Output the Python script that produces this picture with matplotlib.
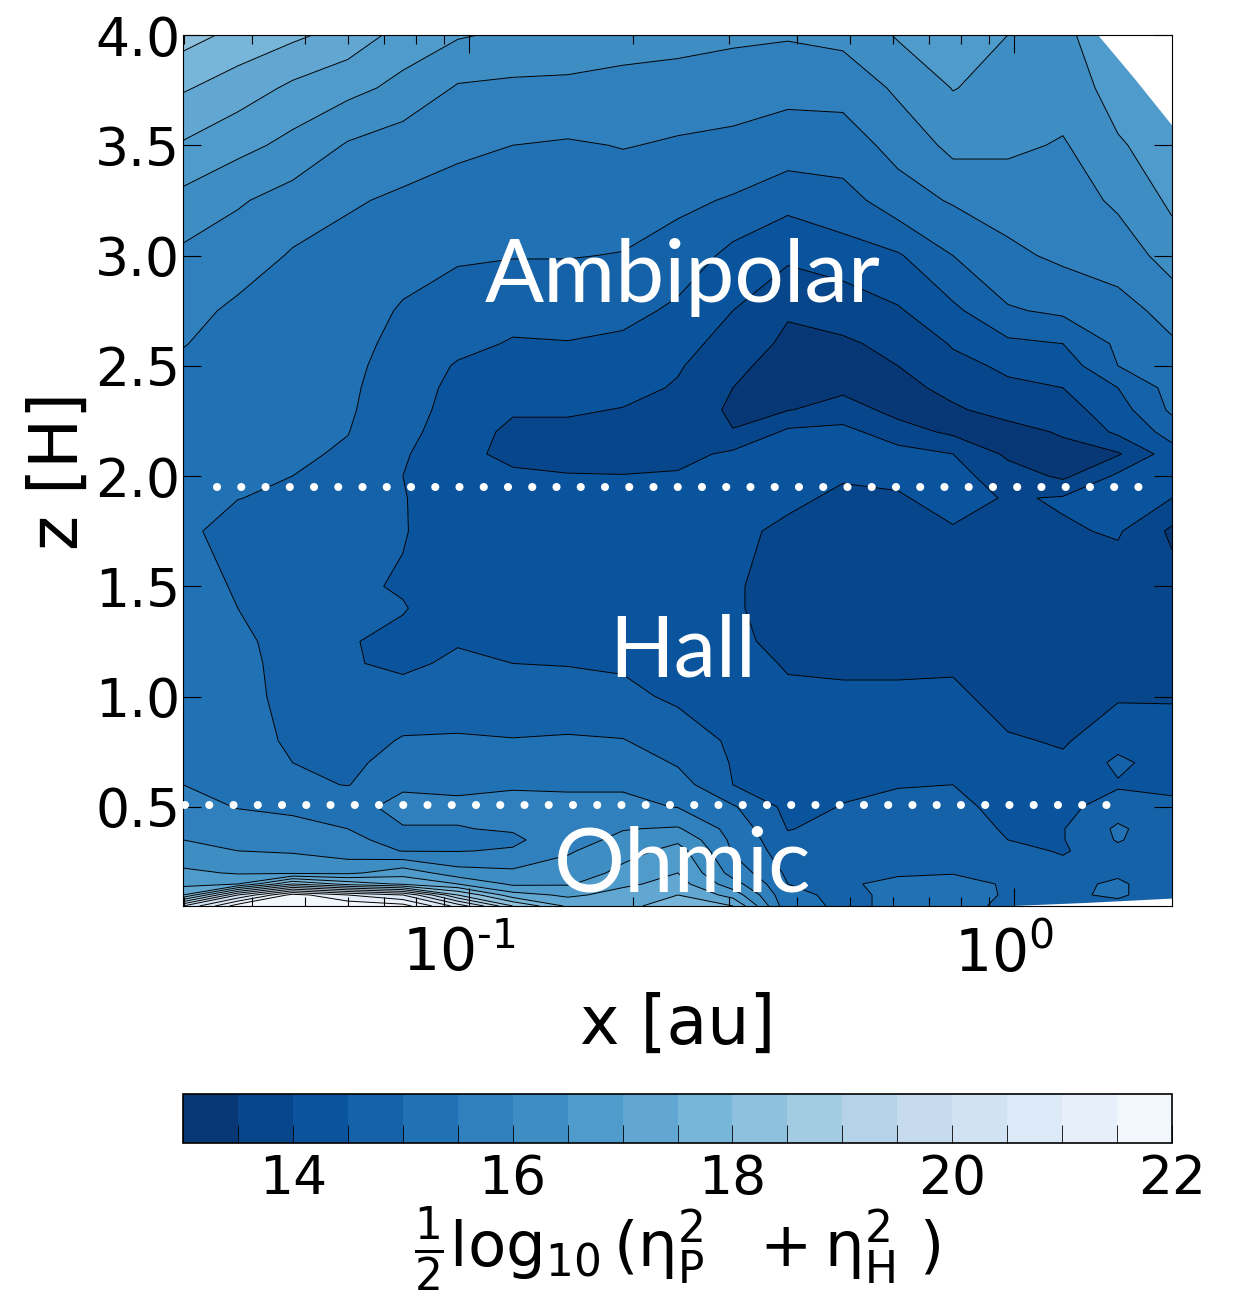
import matplotlib
matplotlib.use("Agg")
import matplotlib.pyplot as plt
from matplotlib.transforms import ScaledTranslation
import numpy as np

plt.rcParams['mathtext.default'] = 'regular'

# positions of the grid
x_au = [0.0299, 0.0377, 0.0475, 0.0600, 0.0757, 0.0954, 0.1204, 0.1519, 0.1917, 0.2418,
        0.3051, 0.3849, 0.4856, 0.6126, 0.7729, 0.9750, 1.230, 1.552, 1.950]
z_h = [4.0, 3.76, 3.5, 3.25, 3.0, 2.75, 2.6, 2.5, 2.4, 2.3, 2.2, 2.1, 2.0, 1.9, 1.75, 1.5, 1.4,
       1.25, 1.15, 1.0, 0.8, 0.7, 0.6, 0.5, 0.4, 0.35, 0.3, 0.2, 0.15, 0.1, 0.05]

# one list per x position, top to bottom
eta_by_column = [
  [18.2,17.55,16.95,16.35,15.9,15.65,15.52,15.42,15.35,15.3,15.3,15.3,15.3,15.3,15.1,15.2,15.2,15.2,15.2,15.2,15.3,15.4,15.5,15.65,15.85,16.0,16.15,16.6,16.85,17.5,20.0],
  [17.85,17.25,16.65,16.05,15.75,15.4,15.3,15.25,15.2,15.15,15.12,15.08,15.03,15.01,14.8,14.95,15.0,15.1,15.15,15.2,15.25,15.33,15.42,15.48,15.7,15.85,16.0,16.45,17.0,20.0,21.8],
  [17.6,16.9,16.35,15.8,15.45,15.3,15.25,15.2,15.17,15.14,15.1,15.06,15.0,14.9,14.8,14.75,14.75,14.8,14.8,14.8,14.9,15.0,15.1,15.4,15.65,15.8,15.95,16.4,18.5,21.7,21.9],
  [17.3,16.65,15.95,15.55,15.35,15.22,15.15,15.1,15.07,15.05,15.01,14.95,14.9,14.85,14.62,14.55,14.6,14.52,14.52,14.6,14.75,14.87,14.98,15.4,15.5,15.62,15.75,16.4,17.8,21.0,21.9],
  [16.8,16.35,15.75,15.42,15.2,14.95,14.85,14.8,14.75,14.7,14.65,14.55,14.5,14.52,14.52,14.47,14.52,14.42,14.45,14.6,15.05,15.25,15.45,15.6,15.48,15.3,15.48,16.8,17.4,20.5,21.7],
  [16.55,15.95,15.6,15.3,15.05,14.8,14.65,14.45,14.35,14.3,14.2,14.15,14.2,14.25,14.3,14.3,14.3,14.48,14.55,14.75,15.05,15.25,15.4,15.6,15.48,15.3,15.48,16.2,17.0,18.5,20.3],
  [16.4,15.9,15.5,15.25,15.02,14.7,14.45,14.3,14.15,14.05,13.9,13.85,14.1,14.15,14.2,14.25,14.28,14.4,14.5,14.7,15.02,15.25,15.45,15.65,15.55,15.4,15.55,16.1,16.4,17.2,18.5],
  [16.3,15.9,15.45,15.2,15.02,14.7,14.48,14.35,14.2,14.05,13.9,13.8,14.03,14.1,14.2,14.3,14.32,14.42,14.48,14.7,15.05,15.25,15.45,15.6,15.75,15.85,15.95,16.2,16.45,16.9,17.4],
  [16.2,15.85,15.52,15.25,14.98,14.65,14.4,14.3,14.15,13.98,13.85,13.75,14.02,14.1,14.2,14.3,14.32,14.4,14.45,14.6,15.02,15.25,15.45,15.6,15.98,16.1,16.3,16.65,16.9,17.2,17.4],
  [16.2,15.75,15.45,15.1,14.8,14.4,14.2,14.05,13.95,13.85,13.8,13.85,14.05,14.1,14.2,14.25,14.27,14.3,14.33,14.42,14.75,14.95,15.2,15.48,16.05,16.4,16.7,17.0,17.2,17.5,17.7],
  [16.1,15.7,15.4,14.95,14.35,14.0,13.75,13.6,13.5,13.4,13.52,14.1,14.15,14.2,14.1,14.05,14.05,14.1,14.2,14.35,14.42,14.46,14.5,15.05,15.3,15.38,15.45,15.8,16.2,16.8,17.5],
  [16.05,15.62,15.3,14.65,14.1,13.55,13.4,13.3,13.25,13.48,14.1,14.2,14.2,14.1,13.9,13.8,13.8,13.85,13.95,14.1,14.2,14.25,14.3,14.35,14.48,14.6,14.7,14.9,15.0,15.05,15.1],
  [16.15,15.65,15.3,14.8,14.3,13.65,13.45,13.4,13.4,13.7,14.15,14.15,14.05,13.9,13.8,13.75,13.75,13.8,13.9,14.1,14.2,14.3,14.4,14.52,14.65,14.7,14.75,14.9,14.95,14.95,14.95],
  [16.55,16.1,15.65,15.3,14.45,13.95,13.6,13.5,13.4,13.35,13.7,14.2,14.1,13.95,13.8,13.7,13.72,13.8,13.9,14.1,14.3,14.4,14.48,14.6,14.7,14.75,14.8,14.95,15.1,15.05,15.05],
  [16.6,16.52,16.15,15.55,15.0,14.4,14.05,13.85,13.6,13.45,13.4,14.0,14.15,14.2,13.95,13.75,13.77,13.85,13.93,14.1,14.3,14.4,14.5,14.65,14.8,14.85,14.9,14.98,15.15,15.2,15.15],
  [16.5,16.3,16.1,15.7,15.4,14.95,14.4,14.1,13.9,13.65,13.35,13.4,13.75,13.95,14.0,13.7,13.7,13.7,13.72,13.8,14.05,14.12,14.2,14.3,14.42,14.5,14.65,14.9,14.95,14.95,14.9],
  [16.4,16.25,15.95,15.75,15.6,15.1,14.5,14.25,14.0,13.8,13.55,13.35,13.4,14.05,13.95,13.7,13.7,13.7,13.72,13.75,13.95,14.08,14.2,14.4,14.48,14.48,14.45,14.7,14.85,14.9,14.95],
  [16.85,16.7,16.45,16.1,15.7,15.35,15.1,15.0,14.5,14.3,14.1,13.45,14.1,14.15,14.05,13.75,13.75,13.75,13.8,13.95,14.3,14.62,14.45,14.7,15.1,15.05,14.85,14.9,15.1,15.1,14.8],
  [16.95,16.85,16.75,16.6,16.25,15.65,15.45,15.3,15.2,15.1,14.7,14.3,14.2,14.0,13.4,13.7,13.72,13.75,13.85,13.98,14.1,14.2,14.48,14.52,14.55,14.55,14.6,14.6,14.55,14.55,14.5],
]

# white corners where the domain ends
top_edge_x = [1.426, 1.667, 1.950]
top_edge_z = [4.0, 3.8, 3.59]
bottom_edge_x = [0.943, 1.35, 1.950]
bottom_edge_z = [0.05, 0.066, 0.086]

# dotted lines between the regions
upper_dots_x = [0.0345, 1.837]
upper_dots_z = [1.95, 1.95]
lower_dots_x = [0.0301, 1.619]
lower_dots_z = [0.51, 0.51]

levels = np.arange(13, 22.5, 0.5)
cbar_ticks = [14, 16, 18, 20, 22]
x_ticks = [0.1, 1]
x_tick_labels = [r'$10^{\text{-}1}$', r'$10^{0}$']
z_ticks = [0.5, 1.0, 1.5, 2.0, 2.5, 3.0, 3.5, 4.0]

#####################################################################################

fig = plt.figure(figsize=(12.36, 13.04), dpi=100)
ax = fig.add_axes([183/1236, 1-906/1304, 989/1236, 871/1304])
cax = fig.add_axes([183/1236, 1-1143/1304, 989/1236, 49/1304])

eta = np.array(eta_by_column).T
cf = ax.contourf(x_au, z_h, eta, levels=levels, cmap='Blues_r')
ax.contour(x_au, z_h, eta, levels=levels, colors='k', linewidths=0.7)

ax.fill_between(top_edge_x, top_edge_z, 4.0, color='white', lw=0, zorder=2.2)
ax.fill_between(bottom_edge_x, 0.05, bottom_edge_z, color='white', lw=0, zorder=2.2)

for dots_x, dots_z in [(upper_dots_x, upper_dots_z), (lower_dots_x, lower_dots_z)]:
  ax.plot(dots_x, dots_z, color='white', lw=5.8, linestyle=(0, (0.01, 3.0)),
          dash_capstyle='round', zorder=3)

ax.set_xscale('log')
ax.set_xlim(0.0299, 1.95)
ax.set_ylim(0.05, 4.0)
ax.set_xticks(x_ticks, x_tick_labels)
ax.set_yticks(z_ticks)
ax.set_axisbelow(False)
ax.tick_params(which='major', direction='in', top=True, right=True, length=13, width=0.8, labelsize=38.5)
ax.tick_params(which='minor', direction='in', top=True, right=True, length=6.5, width=0.8)
ax.tick_params(axis='y', pad=2)
ax.tick_params(axis='x', labelsize=42, pad=14)
for label in ax.get_xticklabels():
  label.set_transform(label.get_transform() + ScaledTranslation(-0.10, 0, fig.dpi_scale_trans))
ax.set_xlabel('x [au]', fontsize=48, labelpad=6)
ax.set_ylabel('z [H]', fontsize=48, labelpad=2)

for name, z, size in [('Ambipolar', 2.9, 63), ('Hall', 1.2, 61), ('Ohmic', 0.228, 64)]:
  ax.text(0.247, z, name, color='white', fontsize=size, family='Lato',
          ha='center', va='center', zorder=4)

cb = fig.colorbar(cf, cax=cax, orientation='horizontal', ticks=cbar_ticks)
cb.ax.minorticks_off()
cb.ax.set_xticks(levels, minor=True)
cb.ax.tick_params(which='major', direction='in', length=13, width=0.6, labelsize=38.5, pad=7)
cb.ax.tick_params(which='minor', direction='in', length=13, width=0.6)
cb.outline.set_linewidth(1.2)
cb.set_label(r'$\frac{1}{2}\log_{10}(\eta_{P}^{2}\ \ +\eta_{H}^{2}\ )$', fontsize=45, labelpad=0)

fig.savefig('out.png', dpi=100)
